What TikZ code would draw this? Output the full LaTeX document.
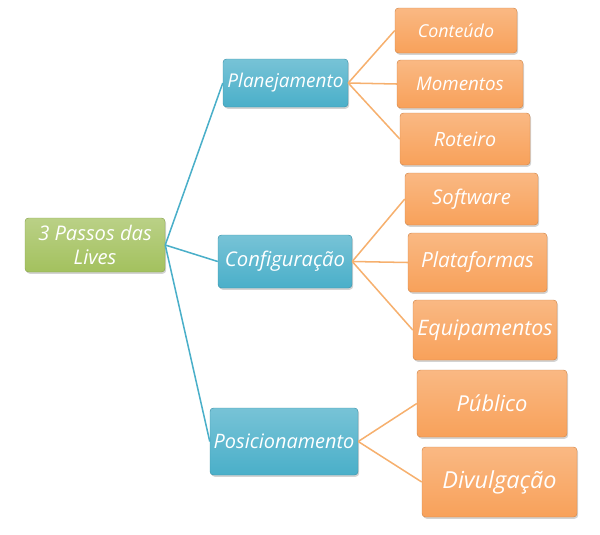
\documentclass[tikz,border=0pt]{standalone}
\usepackage{fontspec}
\setmainfont{Open Sans}
\usetikzlibrary{shadows}
\definecolor{leafgreen}{HTML}{A3C15E}
\definecolor{stepblue}{HTML}{4AAFC9}
\definecolor{itemorange}{HTML}{F8A15A}
\definecolor{lineblue}{HTML}{4AAFC9}
\definecolor{lineorange}{HTML}{F6B06E}

\begin{document}
\begin{tikzpicture}[
    x=0.3mm, y=-0.3mm,
    box/.style={rectangle, rounded corners=3pt, top color=#1!75!white, bottom color=#1, draw=#1!85!black, line width=0.4pt, text=white, align=center, inner sep=1pt, drop shadow={shadow xshift=1pt, shadow yshift=-1.5pt, opacity=0.35}},
    dims/.style n args={3}{minimum width=#1*0.3mm, minimum height=#2*0.3mm, font=\fontsize{#3}{20.5}\selectfont\itshape},
    bline/.style={draw=lineblue, line width=1.3pt},
    oline/.style={draw=lineorange, line width=1.3pt}
]
    \useasboundingbox (0,0) rectangle (600,534);

    \node[box=leafgreen, dims={140}{54}{17.2}] (root) at (95,245) {3 Passos das\\Lives};

    \node[box=stepblue, dims={125}{48}{16.2}] (plan) at (285.5,83) {Planejamento};
    \node[box=stepblue, dims={134}{53}{17.3}] (conf) at (285,261.5) {Configuração};
    \node[box=stepblue, dims={148}{67}{17}] (posi) at (284,441.5) {Posicionamento};

    \node[box=itemorange, dims={122}{45}{15.2}] (cont) at (456,30.5) {Conteúdo};
    \node[box=itemorange, dims={126}{48}{16}] (mome) at (460,84) {Momentos};
    \node[box=itemorange, dims={130}{52}{16.8}] (rote) at (465,139) {Roteiro};
    \node[box=itemorange, dims={133}{52}{17.3}] (soft) at (471.5,199) {Software};
    \node[box=itemorange, dims={139}{59}{17.8}] (plat) at (477.5,262.5) {Plataformas};
    \node[box=itemorange, dims={144}{60}{18.2}] (equi) at (485,330) {Equipamentos};
    \node[box=itemorange, dims={150}{67}{18.7}] (publ) at (492,403.5) {Público};
    \node[box=itemorange, dims={155}{70}{20}] (divu) at (499.5,482) {Divulgação};

    \draw[bline] (root.east) -- (plan.west);
    \draw[bline] (root.east) -- (conf.west);
    \draw[bline] (root.east) -- (posi.west);

    \draw[oline] (plan.east) -- (cont.west);
    \draw[oline] (plan.east) -- (mome.west);
    \draw[oline] (plan.east) -- (rote.west);
    \draw[oline] (conf.east) -- (soft.west);
    \draw[oline] (conf.east) -- (plat.west);
    \draw[oline] (conf.east) -- (equi.west);
    \draw[oline] (posi.east) -- (publ.west);
    \draw[oline] (posi.east) -- (divu.west);
\end{tikzpicture}
\end{document}
